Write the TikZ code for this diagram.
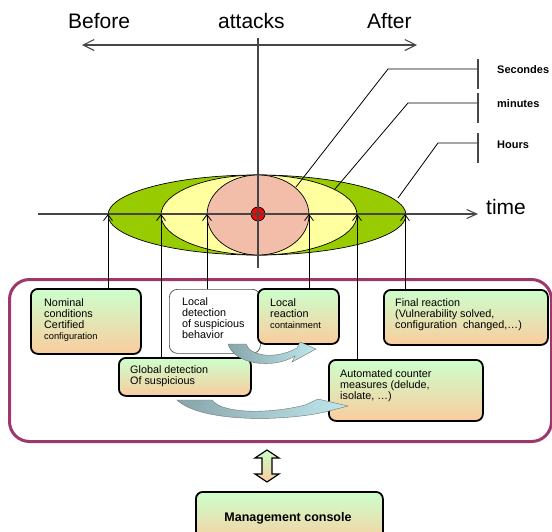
\documentclass[tikz,border=0pt]{standalone}
\usepackage{fontspec}
\setmainfont{Liberation Sans}
\usetikzlibrary{arrows.meta,calc}
\definecolor{boxgreen}{RGB}{204,255,204}
\definecolor{boxorange}{RGB}{250,204,158}
\definecolor{framecol}{RGB}{158,56,106}
\definecolor{ellgreen}{RGB}{153,204,0}
\definecolor{ellyellow}{RGB}{255,255,160}
\definecolor{ellpink}{RGB}{242,190,170}
\definecolor{tealdark}{RGB}{135,165,170}
\definecolor{teallight}{RGB}{190,232,238}
\definecolor{axisgray}{RGB}{70,70,70}
\newcommand\mylines[1]{\begin{tabular}[t]{@{}l@{}}#1\end{tabular}}
\newcommand\smalltxt{\fontsize{9.3}{11.3}\selectfont}
\begin{document}
\begin{tikzpicture}[x=1pt,y=-1pt,
  gbox/.style={draw=black, line width=1.8pt, rounded corners=7pt, top color=boxgreen, bottom color=boxorange, anchor=north west, inner sep=0pt},
  wbox/.style={draw=black!70, line width=0.7pt, rounded corners=8pt, fill=white, anchor=north west, inner sep=0pt},
  boxtxt/.style={anchor=base west, inner sep=0pt, font=\fontsize{10.8}{11.3}\selectfont},
  axisline/.style={draw=axisgray, line width=1.1pt},
  varrow/.style={draw=black, line width=0.8pt, -{Straight Barb[length=6pt,width=9pt]}},
  leader/.style={draw=black, line width=0.8pt},
  tickbar/.style={draw=axisgray, line width=1.4pt},
  bigtxt/.style={font=\fontsize{21}{24}\selectfont, inner sep=0pt, anchor=base west},
  unitlbl/.style={font=\bfseries\fontsize{11}{13}\selectfont, inner sep=0pt, anchor=west},
  curarrow/.style={left color=tealdark, right color=teallight, draw=black!55, line width=0.4pt},
  ell/.style={draw=black, line width=0.7pt}
]
\useasboundingbox (0,0) rectangle (552,531);

% ellipses
\path[ell, fill=ellgreen] (257,215) ellipse [x radius=149, y radius=40];
\path[ell, fill=ellyellow] (259,215) ellipse [x radius=98, y radius=40];
\path[ell, fill=ellpink] (258,215) ellipse [x radius=51, y radius=40];
\path[draw=black, line width=0.7pt, fill=red] (258,214) circle [radius=7];

% axes
\coordinate (vtop) at (258,38);
\coordinate (vbot) at (258,268);
\coordinate (hleft) at (38,214);
\coordinate (hright) at (478,214);
\coordinate (aleft) at (82,45);
\coordinate (aright) at (417,45);
\draw[axisline] (vtop) -- (vbot);
\draw[axisline, -{Straight Barb[length=10pt,width=9pt]}] (hleft) -- (hright);
\draw[axisline, {Straight Barb[length=11pt,width=11pt]}-{Straight Barb[length=11pt,width=11pt]}] (aleft) -- (aright);

% texts top
\node[bigtxt] (before) at (68,28) {Before};
\node[bigtxt] (attacks) at (218,28) {attacks};
\node[bigtxt] (after) at (367,28) {After};
\node[bigtxt] (time) at (486,214) {time};

% leaders
\coordinate (s0) at (296,187);
\coordinate (s1) at (388,69);
\coordinate (s2) at (478,69);
\coordinate (m0) at (335,189);
\coordinate (m1) at (408,103);
\coordinate (m2) at (478,103);
\coordinate (h0) at (398,198);
\coordinate (h1) at (438,143);
\coordinate (h2) at (478,143);
\draw[leader] (s0) -- (s1) -- (s2);
\draw[leader] (m0) -- (m1) -- (m2);
\draw[leader] (h0) -- (h1) -- (h2);
\draw[tickbar] (478,59) -- (478,89);
\draw[tickbar] (478,93) -- (478,123);
\draw[tickbar] (478,133) -- (478,163);
\node[unitlbl] (sec) at (497,70) {Secondes};
\node[unitlbl] (min) at (497,104) {minutes};
\node[unitlbl] (hrs) at (497,145) {Hours};

% frame
\node[draw=framecol, line width=3pt, rounded corners=20pt, minimum width=542pt, minimum height=162pt, anchor=north west, inner sep=0pt] (sys) at (8,278) {};

% boxes
\node[gbox, minimum width=110pt, minimum height=65pt] (nom) at (30,288) {};
\node[wbox, minimum width=91pt, minimum height=64pt] (ldet) at (169,289) {};
\node[gbox, minimum width=81pt, minimum height=55pt] (lreac) at (257,288) {};
\node[gbox, minimum width=164pt, minimum height=55pt] (final) at (383,289) {};
\node[gbox, minimum width=132pt, minimum height=38pt] (glob) at (118,357) {};
\node[gbox, minimum width=154pt, minimum height=61pt] (auto) at (328,359) {};
\node[gbox, minimum width=187pt, minimum height=55pt] (mgmt) at (195,491) {};

% vertical arrows to time axis
\coordinate (t1) at (108,214);
\coordinate (t2) at (161,214);
\coordinate (t3) at (207,214);
\coordinate (t4) at (309,214);
\coordinate (t5) at (357,214);
\coordinate (t6) at (405,214);
\draw[varrow] (t1 |- nom.north) -- (t1);
\draw[varrow] (t2 |- glob.north) -- (t2);
\draw[varrow] (t3 |- ldet.north) -- (t3);
\draw[varrow] (t4 |- lreac.north) -- (t4);
\draw[varrow] (t5 |- auto.north) -- (t5);
\draw[varrow] (t6 |- final.north) -- (t6);

% curved block arrows
\path[curarrow] (228,344) -- (246,344) .. controls (250,356) and (275,360) .. (297,348)
  -- (300,342) -- (316,349) -- (292,362) -- (295,356)
  .. controls (272,370) and (234,364) .. (228,344) -- cycle;
\path[curarrow] (177,400) -- (212,400) .. controls (222,414) and (270,414) .. (305,405)
  -- (318,399) -- (348,406) -- (325,412)
  .. controls (280,422) and (200,422) .. (177,400) -- cycle;

% double arrow to console
\path[draw=black, line width=1.2pt, top color=boxgreen, bottom color=boxorange]
  (267,450) -- (279,458) -- (272,458) -- (272,474) -- (279,474) -- (267,482)
  -- (255,474) -- (262,474) -- (262,458) -- (255,458) -- cycle;

% box texts
\node[boxtxt] (nomt) at (44,306) {\mylines{Nominal\\conditions\\Certified\\{\smalltxt configuration}}};
\node[boxtxt] (ldett) at (182,305) {\mylines{Local\\detection\\of suspicious\\behavior}};
\node[boxtxt] (lreact) at (270,306) {\mylines{Local\\reaction\\{\smalltxt containment}}};
\node[boxtxt] (finalt) at (395,306) {\mylines{Final reaction\\(Vulnerability solved,\\configuration\ \ changed,\dots)}};
\node[boxtxt] (globt) at (130,373) {\mylines{Global detection\\Of suspicious}};
\node[boxtxt] (autot) at (340,377) {\mylines{Automated counter\\measures (delude,\\isolate, \dots)}};
\node[anchor=base, inner sep=0pt, font=\bfseries\fontsize{12.5}{14}\selectfont] (mgmtt) at (288,521) {Management console};
\end{tikzpicture}
\end{document}
